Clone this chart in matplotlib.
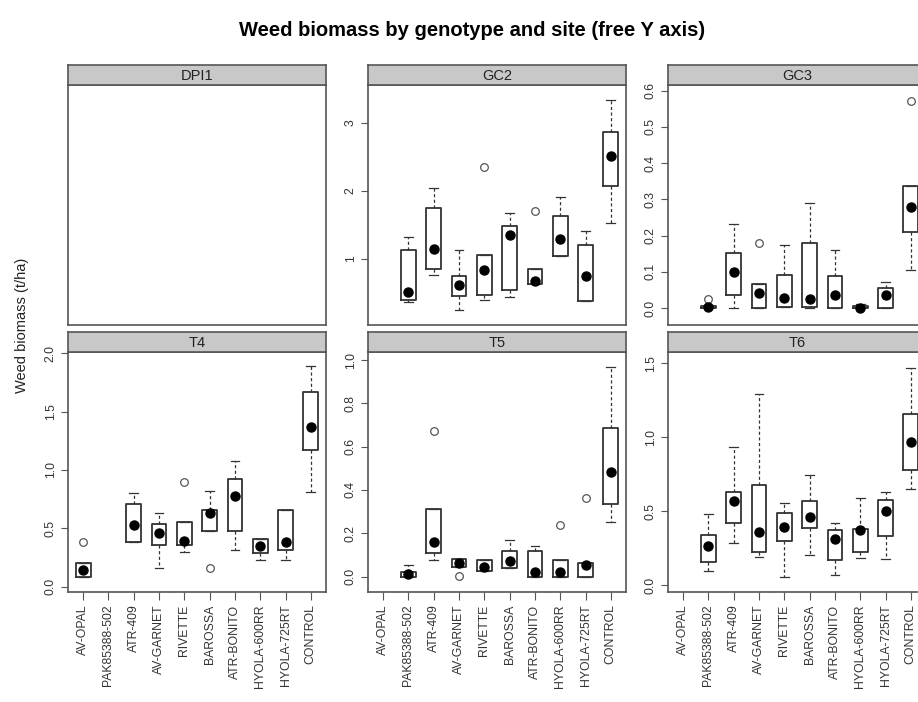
import matplotlib
matplotlib.use("Agg")
import matplotlib.pyplot as plt
from matplotlib.ticker import MultipleLocator, FormatStrFormatter

plt.rcParams['font.family'] = ['Liberation Sans', 'DejaVu Sans']

GENOTYPES = ["AV-OPAL", "PAK85388-502", "ATR-409", "AV-GARNET", "RIVETTE",
             "BAROSSA", "ATR-BONITO", "HYOLA-600RR", "HYOLA-725RT", "CONTROL"]
SITES = ["DPI1", "GC2", "GC3", "T4", "T5", "T6"]

# per genotype: (lower whisker, q1, median, q3, upper whisker), None = no data
DPI1 = [None] * 10
DPI1_OUT = [[]] * 10

GC2 = [None, (0.37, 0.40, 0.52, 1.14, 1.33), (0.76, 0.86, 1.15, 1.75, 2.04),
       (0.25, 0.46, 0.62, 0.75, 1.13), (0.40, 0.47, 0.84, 1.06, 1.06),
       (0.44, 0.54, 1.35, 1.49, 1.67), (0.64, 0.64, 0.67, 0.86, 0.86),
       (1.04, 1.04, 1.29, 1.63, 1.92), (0.39, 0.39, 0.75, 1.21, 1.41),
       (1.53, 2.07, 2.51, 2.87, 3.34)]
GC2_OUT = [[], [], [], [], [2.36], [], [1.71], [], [], []]

GC3 = [None, (0.0, 0.0, 0.002, 0.006, 0.008), (0.0, 0.036, 0.10, 0.153, 0.232),
       (0.0, 0.0, 0.042, 0.066, 0.066), (0.004, 0.004, 0.027, 0.091, 0.174),
       (0.0, 0.004, 0.024, 0.179, 0.291), (0.0, 0.0, 0.036, 0.088, 0.16),
       (0.0, 0.0, 0.0, 0.006, 0.012), (0.0, 0.0, 0.036, 0.054, 0.073),
       (0.105, 0.211, 0.28, 0.337, 0.337)]
GC3_OUT = [[], [0.025], [], [0.18], [], [], [], [], [], [0.572]]

T4 = [(0.08, 0.08, 0.14, 0.20, 0.20), None, (0.38, 0.38, 0.53, 0.71, 0.80),
      (0.16, 0.36, 0.46, 0.54, 0.63), (0.30, 0.36, 0.39, 0.55, 0.55),
      (0.48, 0.48, 0.63, 0.66, 0.82), (0.31, 0.48, 0.78, 0.92, 1.08),
      (0.23, 0.29, 0.35, 0.41, 0.41), (0.23, 0.31, 0.38, 0.66, 0.66),
      (0.81, 1.17, 1.37, 1.67, 1.89)]
T4_OUT = [[0.38], [], [], [], [0.90], [0.16], [], [], [], []]

T5 = [None, (0.0, 0.0, 0.011, 0.02, 0.054), (0.077, 0.108, 0.16, 0.31, 0.31),
      (0.043, 0.043, 0.062, 0.08, 0.08), (0.028, 0.028, 0.046, 0.077, 0.077),
      (0.039, 0.039, 0.074, 0.12, 0.169), (0.0, 0.0, 0.02, 0.12, 0.142),
      (0.0, 0.0, 0.023, 0.077, 0.077), (0.0, 0.0, 0.054, 0.065, 0.065),
      (0.25, 0.335, 0.485, 0.685, 0.97)]
T5_OUT = [[], [], [0.67], [0.003], [], [], [], [0.24], [0.365], []]

T6 = [None, (0.10, 0.157, 0.267, 0.34, 0.48), (0.285, 0.42, 0.572, 0.633, 0.937),
      (0.195, 0.228, 0.359, 0.678, 1.29), (0.055, 0.30, 0.397, 0.487, 0.555),
      (0.206, 0.386, 0.464, 0.572, 0.746), (0.071, 0.172, 0.312, 0.375, 0.424),
      (0.188, 0.228, 0.375, 0.379, 0.588), (0.177, 0.334, 0.503, 0.577, 0.633),
      (0.649, 0.779, 0.97, 1.157, 1.47)]
T6_OUT = [[]] * 10

DATA = [DPI1, GC2, GC3, T4, T5, T6]
OUTS = [DPI1_OUT, GC2_OUT, GC3_OUT, T4_OUT, T5_OUT, T6_OUT]
YLIMS = [None, (0.03, 3.56), (-0.047, 0.616), (-0.047, 2.01), (-0.071, 1.037), (-0.044, 1.575)]
YSTEP = [None, 1, 0.1, 0.5, 0.2, 0.5]
YFMT = [None, '%d', '%.1f', '%.1f', '%.1f', '%.1f']

W, H = 918, 702
fig = plt.figure(figsize=(W / 100, H / 100), dpi=100)

col_left = [68, 368, 668]
panel_w = 258
row_top = [85, 352]   # panel tops (px)
panel_h = 240
strip_h = 20
frame = '#555555'

for k, site in enumerate(SITES):
    r, c = divmod(k, 3)
    x0 = col_left[c]
    y0 = row_top[r]
    ax = fig.add_axes([x0 / W, 1 - (y0 + panel_h) / H, panel_w / W, panel_h / H])
    sax = fig.add_axes([x0 / W, 1 - y0 / H, panel_w / W, strip_h / H])

    # strip
    sax.set_facecolor('#c8c8c8')
    sax.set_xticks([])
    sax.set_yticks([])
    for sp in sax.spines.values():
        sp.set_color(frame)
        sp.set_linewidth(1.2)
    sax.text(0.5, 0.45, site, ha='center', va='center', fontsize=10.5, color='#222222',
             transform=sax.transAxes)

    stats, pos = [], []
    for i, (row, out) in enumerate(zip(DATA[k], OUTS[k])):
        if row is None:
            continue
        lo, q1, med, q3, hi = row
        stats.append(dict(whislo=lo, q1=q1, med=med, q3=q3, whishi=hi, fliers=out))
        pos.append(i + 1)

    if stats:
        ax.bxp(stats, positions=pos, widths=0.58, capwidths=0.35, showfliers=True,
               boxprops=dict(color='#333333', linewidth=1.3),
               whiskerprops=dict(color='#333333', linewidth=0.9, linestyle=(0, (2.5, 2))),
               capprops=dict(color='#333333', linewidth=0.9),
               medianprops=dict(linestyle='none'),
               flierprops=dict(marker='o', markerfacecolor='none', markeredgecolor='#555555',
                               markersize=5.5, markeredgewidth=0.9))
        ax.plot(pos, [s['med'] for s in stats], 'o', color='black', markersize=6.5, zorder=5)

    ax.set_xlim(0.4, 10.6)
    ax.set_xticks(range(1, len(GENOTYPES) + 1))
    if r == 1:
        ax.set_xticklabels(GENOTYPES, rotation=90, fontsize=8.8, color='#333333')
        ax.tick_params(axis='x', direction='out', length=6, width=0.8, color=frame, pad=3)
    else:
        ax.tick_params(axis='x', bottom=False, labelbottom=False)

    if YLIMS[k] is None:
        ax.set_yticks([])
    else:
        ax.set_ylim(*YLIMS[k])
        ax.yaxis.set_major_locator(MultipleLocator(YSTEP[k]))
        ax.yaxis.set_major_formatter(FormatStrFormatter(YFMT[k]))
        ax.tick_params(axis='y', direction='out', length=5, width=0.8, color=frame,
                       labelsize=8.8, labelcolor='#333333', pad=3)
        for lab in ax.get_yticklabels():
            lab.set_rotation(90)
            lab.set_va('center')

    for sp in ax.spines.values():
        sp.set_color(frame)
        sp.set_linewidth(1.2)

fig.text(472 / W, 1 - 30 / H, "Weed biomass by genotype and site (free Y axis)",
         ha='center', va='center', fontsize=14.5, fontweight='bold')
fig.text(22 / W, 1 - 325 / H, "Weed biomass (t/ha)", rotation=90,
         ha='center', va='center', fontsize=10.5, color='#222222')

fig.savefig("out.png", dpi=100)
